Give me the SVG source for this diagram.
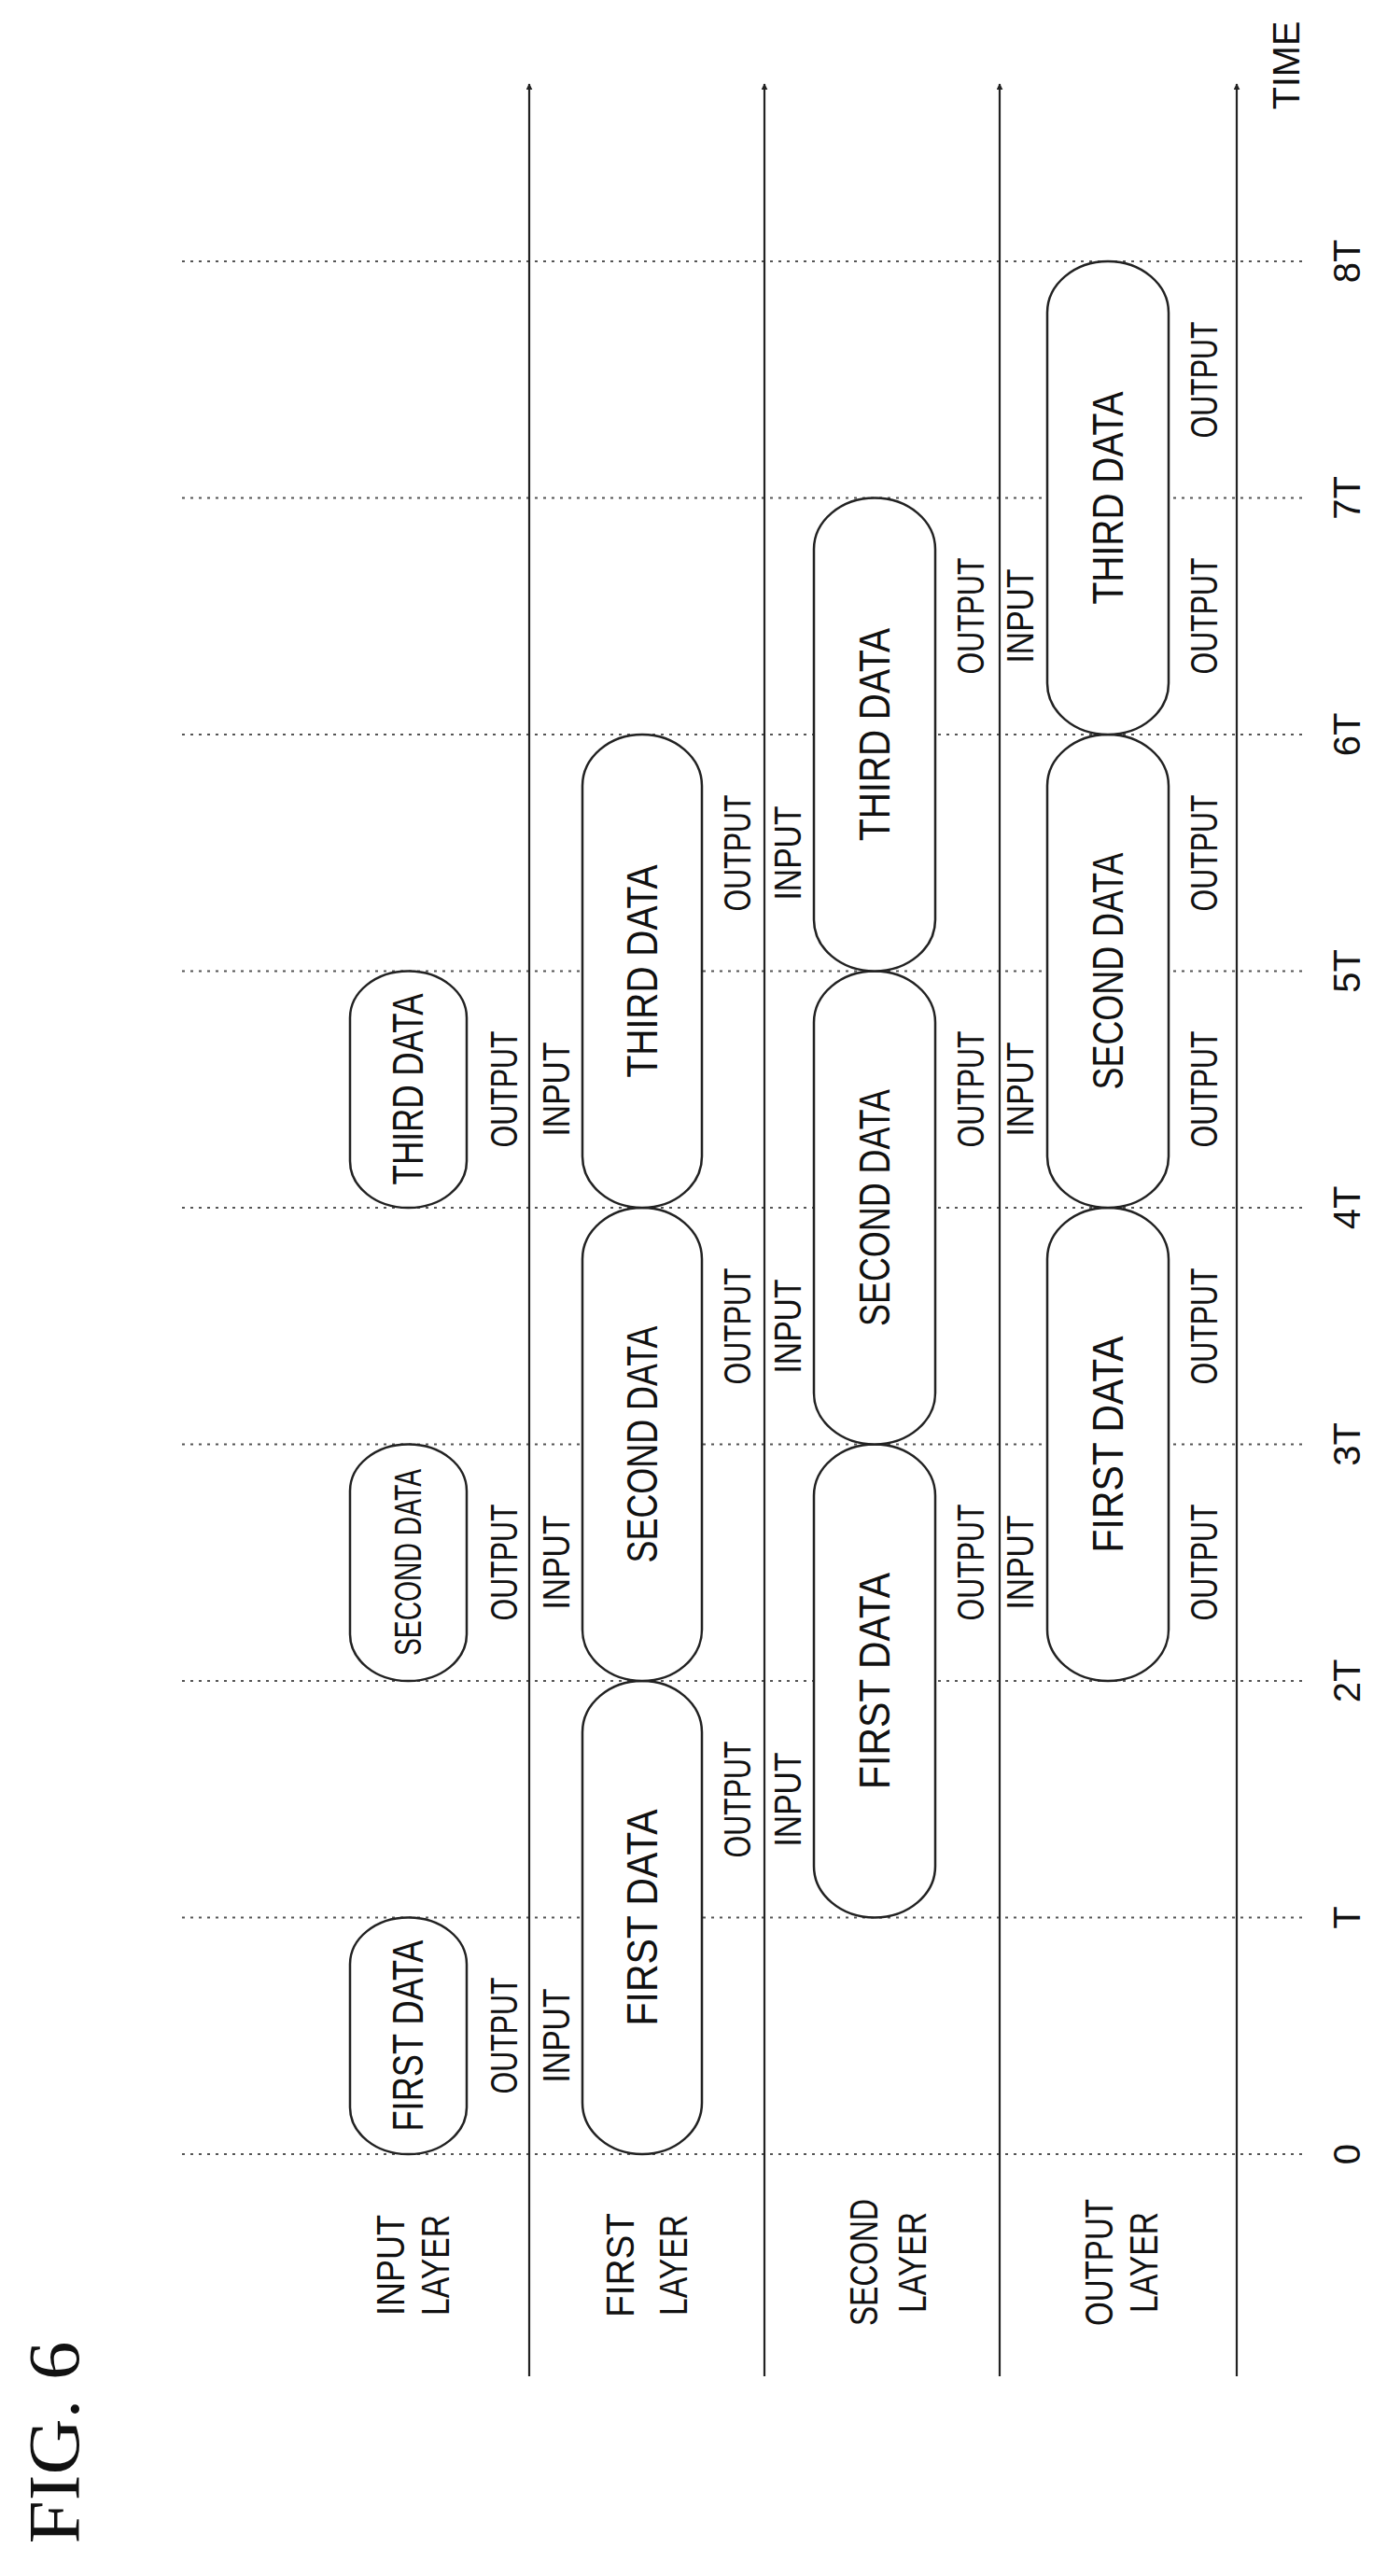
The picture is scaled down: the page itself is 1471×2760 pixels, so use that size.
<svg xmlns="http://www.w3.org/2000/svg" width="1471" height="2760" viewBox="0 0 1471 2760">
<style>
text{font-family:"Liberation Sans",Arial,sans-serif;fill:#111;text-anchor:middle;dominant-baseline:central}
.pl{font-size:46px}
.io{font-size:40px}
.ly{font-size:42px}
.tk{font-size:40px}
.pill{fill:#fff;stroke:#222;stroke-width:2.5}
.tl{stroke:#555;stroke-width:2;stroke-dasharray:3 6;fill:none}
.ax{stroke:#222;stroke-width:2.2;fill:none;marker-end:url(#ah)}
</style>
<defs>
<marker id="ah" viewBox="0 0 10 10" refX="9" refY="5" markerWidth="7" markerHeight="7" orient="auto" markerUnits="userSpaceOnUse">
<path d="M0,0 L10,5 L0,10 Z" fill="#222"/>
</marker>
</defs>
<rect width="1471" height="2760" fill="#fff"/>
<g id="time-lines">
<line class="tl" x1="195" y1="2308" x2="1400" y2="2308"/>
<line class="tl" x1="195" y1="2054.5" x2="1400" y2="2054.5"/>
<line class="tl" x1="195" y1="1801" x2="1400" y2="1801"/>
<line class="tl" x1="195" y1="1547.5" x2="1400" y2="1547.5"/>
<line class="tl" x1="195" y1="1294" x2="1400" y2="1294"/>
<line class="tl" x1="195" y1="1040.5" x2="1400" y2="1040.5"/>
<line class="tl" x1="195" y1="787" x2="1400" y2="787"/>
<line class="tl" x1="195" y1="533.5" x2="1400" y2="533.5"/>
<line class="tl" x1="195" y1="280" x2="1400" y2="280"/>
</g>
<g id="connectors">
<line class="ax" x1="567" y1="2546" x2="567" y2="90"/>
<line class="ax" x1="819" y1="2546" x2="819" y2="90"/>
<line class="ax" x1="1071" y1="2546" x2="1071" y2="90"/>
<line class="ax" x1="1325" y1="2546" x2="1325" y2="90"/>
</g>
<g id="input-layer">
<rect class="pill" x="375" y="2054.5" width="125" height="253.5" rx="62" ry="50"/>
<text class="pl" transform="translate(437,2181) rotate(-90)" textLength="205" lengthAdjust="spacingAndGlyphs">FIRST DATA</text>
<rect class="pill" x="375" y="1547.5" width="125" height="253.5" rx="62" ry="50"/>
<text class="pl" transform="translate(437,1674) rotate(-90)" textLength="200" lengthAdjust="spacingAndGlyphs" style="font-size:40px">SECOND DATA</text>
<rect class="pill" x="375" y="1040.5" width="125" height="253.5" rx="62" ry="50"/>
<text class="pl" transform="translate(437,1167) rotate(-90)" textLength="205" lengthAdjust="spacingAndGlyphs">THIRD DATA</text>
</g>
<g id="first-layer">
<rect class="pill" x="624" y="1801" width="128" height="507" rx="64" ry="55"/>
<text class="pl" transform="translate(688,2054.5) rotate(-90)" textLength="232" lengthAdjust="spacingAndGlyphs">FIRST DATA</text>
<rect class="pill" x="624" y="1294" width="128" height="507" rx="64" ry="55"/>
<text class="pl" transform="translate(688,1547.5) rotate(-90)" textLength="254" lengthAdjust="spacingAndGlyphs">SECOND DATA</text>
<rect class="pill" x="624" y="787" width="128" height="507" rx="64" ry="55"/>
<text class="pl" transform="translate(688,1040.5) rotate(-90)" textLength="228" lengthAdjust="spacingAndGlyphs">THIRD DATA</text>
</g>
<g id="second-layer">
<rect class="pill" x="872" y="1547.5" width="130" height="507" rx="65" ry="55"/>
<text class="pl" transform="translate(937,1801) rotate(-90)" textLength="232" lengthAdjust="spacingAndGlyphs">FIRST DATA</text>
<rect class="pill" x="872" y="1040.5" width="130" height="507" rx="65" ry="55"/>
<text class="pl" transform="translate(937,1294) rotate(-90)" textLength="254" lengthAdjust="spacingAndGlyphs">SECOND DATA</text>
<rect class="pill" x="872" y="533.5" width="130" height="507" rx="65" ry="55"/>
<text class="pl" transform="translate(937,787) rotate(-90)" textLength="228" lengthAdjust="spacingAndGlyphs">THIRD DATA</text>
</g>
<g id="output-layer">
<rect class="pill" x="1122" y="1294" width="130" height="507" rx="65" ry="55"/>
<text class="pl" transform="translate(1187,1547.5) rotate(-90)" textLength="232" lengthAdjust="spacingAndGlyphs">FIRST DATA</text>
<rect class="pill" x="1122" y="787" width="130" height="507" rx="65" ry="55"/>
<text class="pl" transform="translate(1187,1040.5) rotate(-90)" textLength="254" lengthAdjust="spacingAndGlyphs">SECOND DATA</text>
<rect class="pill" x="1122" y="280" width="130" height="507" rx="65" ry="55"/>
<text class="pl" transform="translate(1187,533.5) rotate(-90)" textLength="228" lengthAdjust="spacingAndGlyphs">THIRD DATA</text>
</g>
<g id="io-labels">
<text class="io" transform="translate(540,2181) rotate(-90)" textLength="125" lengthAdjust="spacingAndGlyphs">OUTPUT</text>
<text class="io" transform="translate(596,2181) rotate(-90)" textLength="101" lengthAdjust="spacingAndGlyphs">INPUT</text>
<text class="io" transform="translate(540,1674) rotate(-90)" textLength="125" lengthAdjust="spacingAndGlyphs">OUTPUT</text>
<text class="io" transform="translate(596,1674) rotate(-90)" textLength="101" lengthAdjust="spacingAndGlyphs">INPUT</text>
<text class="io" transform="translate(540,1167) rotate(-90)" textLength="125" lengthAdjust="spacingAndGlyphs">OUTPUT</text>
<text class="io" transform="translate(596,1167) rotate(-90)" textLength="101" lengthAdjust="spacingAndGlyphs">INPUT</text>
<text class="io" transform="translate(790,1928) rotate(-90)" textLength="125" lengthAdjust="spacingAndGlyphs">OUTPUT</text>
<text class="io" transform="translate(844,1928) rotate(-90)" textLength="101" lengthAdjust="spacingAndGlyphs">INPUT</text>
<text class="io" transform="translate(790,1421) rotate(-90)" textLength="125" lengthAdjust="spacingAndGlyphs">OUTPUT</text>
<text class="io" transform="translate(844,1421) rotate(-90)" textLength="101" lengthAdjust="spacingAndGlyphs">INPUT</text>
<text class="io" transform="translate(790,914) rotate(-90)" textLength="125" lengthAdjust="spacingAndGlyphs">OUTPUT</text>
<text class="io" transform="translate(844,914) rotate(-90)" textLength="101" lengthAdjust="spacingAndGlyphs">INPUT</text>
<text class="io" transform="translate(1040,1674) rotate(-90)" textLength="125" lengthAdjust="spacingAndGlyphs">OUTPUT</text>
<text class="io" transform="translate(1093,1674) rotate(-90)" textLength="101" lengthAdjust="spacingAndGlyphs">INPUT</text>
<text class="io" transform="translate(1040,1167) rotate(-90)" textLength="125" lengthAdjust="spacingAndGlyphs">OUTPUT</text>
<text class="io" transform="translate(1093,1167) rotate(-90)" textLength="101" lengthAdjust="spacingAndGlyphs">INPUT</text>
<text class="io" transform="translate(1040,660) rotate(-90)" textLength="125" lengthAdjust="spacingAndGlyphs">OUTPUT</text>
<text class="io" transform="translate(1093,660) rotate(-90)" textLength="101" lengthAdjust="spacingAndGlyphs">INPUT</text>
<text class="io" transform="translate(1290,1674) rotate(-90)" textLength="125" lengthAdjust="spacingAndGlyphs">OUTPUT</text>
<text class="io" transform="translate(1290,1421) rotate(-90)" textLength="125" lengthAdjust="spacingAndGlyphs">OUTPUT</text>
<text class="io" transform="translate(1290,1167) rotate(-90)" textLength="125" lengthAdjust="spacingAndGlyphs">OUTPUT</text>
<text class="io" transform="translate(1290,914) rotate(-90)" textLength="125" lengthAdjust="spacingAndGlyphs">OUTPUT</text>
<text class="io" transform="translate(1290,660) rotate(-90)" textLength="125" lengthAdjust="spacingAndGlyphs">OUTPUT</text>
<text class="io" transform="translate(1290,407) rotate(-90)" textLength="125" lengthAdjust="spacingAndGlyphs">OUTPUT</text>
</g>
<g id="layer-labels">
<text class="ly" transform="translate(418,2427) rotate(-90)" textLength="108" lengthAdjust="spacingAndGlyphs">INPUT</text>
<text class="ly" transform="translate(466,2427) rotate(-90)" textLength="108" lengthAdjust="spacingAndGlyphs">LAYER</text>
<text class="ly" transform="translate(664,2427) rotate(-90)" textLength="112" lengthAdjust="spacingAndGlyphs">FIRST</text>
<text class="ly" transform="translate(721,2427) rotate(-90)" textLength="108" lengthAdjust="spacingAndGlyphs">LAYER</text>
<text class="ly" transform="translate(925,2424) rotate(-90)" textLength="136" lengthAdjust="spacingAndGlyphs">SECOND</text>
<text class="ly" transform="translate(977,2424) rotate(-90)" textLength="108" lengthAdjust="spacingAndGlyphs">LAYER</text>
<text class="ly" transform="translate(1177,2424) rotate(-90)" textLength="136" lengthAdjust="spacingAndGlyphs">OUTPUT</text>
<text class="ly" transform="translate(1225,2424) rotate(-90)" textLength="108" lengthAdjust="spacingAndGlyphs">LAYER</text>
</g>
<g id="time-labels">
<text class="tk" transform="translate(1443,2308) rotate(-90)">0</text>
<text class="tk" transform="translate(1443,2054.5) rotate(-90)">T</text>
<text class="tk" transform="translate(1443,1801) rotate(-90)">2T</text>
<text class="tk" transform="translate(1443,1547.5) rotate(-90)">3T</text>
<text class="tk" transform="translate(1443,1294) rotate(-90)">4T</text>
<text class="tk" transform="translate(1443,1040.5) rotate(-90)">5T</text>
<text class="tk" transform="translate(1443,787) rotate(-90)">6T</text>
<text class="tk" transform="translate(1443,533.5) rotate(-90)">7T</text>
<text class="tk" transform="translate(1443,280) rotate(-90)">8T</text>
<text class="tk" transform="translate(1378,70) rotate(-90)" textLength="95" lengthAdjust="spacingAndGlyphs">TIME</text>
</g>
<text transform="translate(57,2617) rotate(-90)" style="font-family:'Liberation Serif','Times New Roman',serif;font-size:78px" textLength="217" lengthAdjust="spacingAndGlyphs">FIG. 6</text>
</svg>
